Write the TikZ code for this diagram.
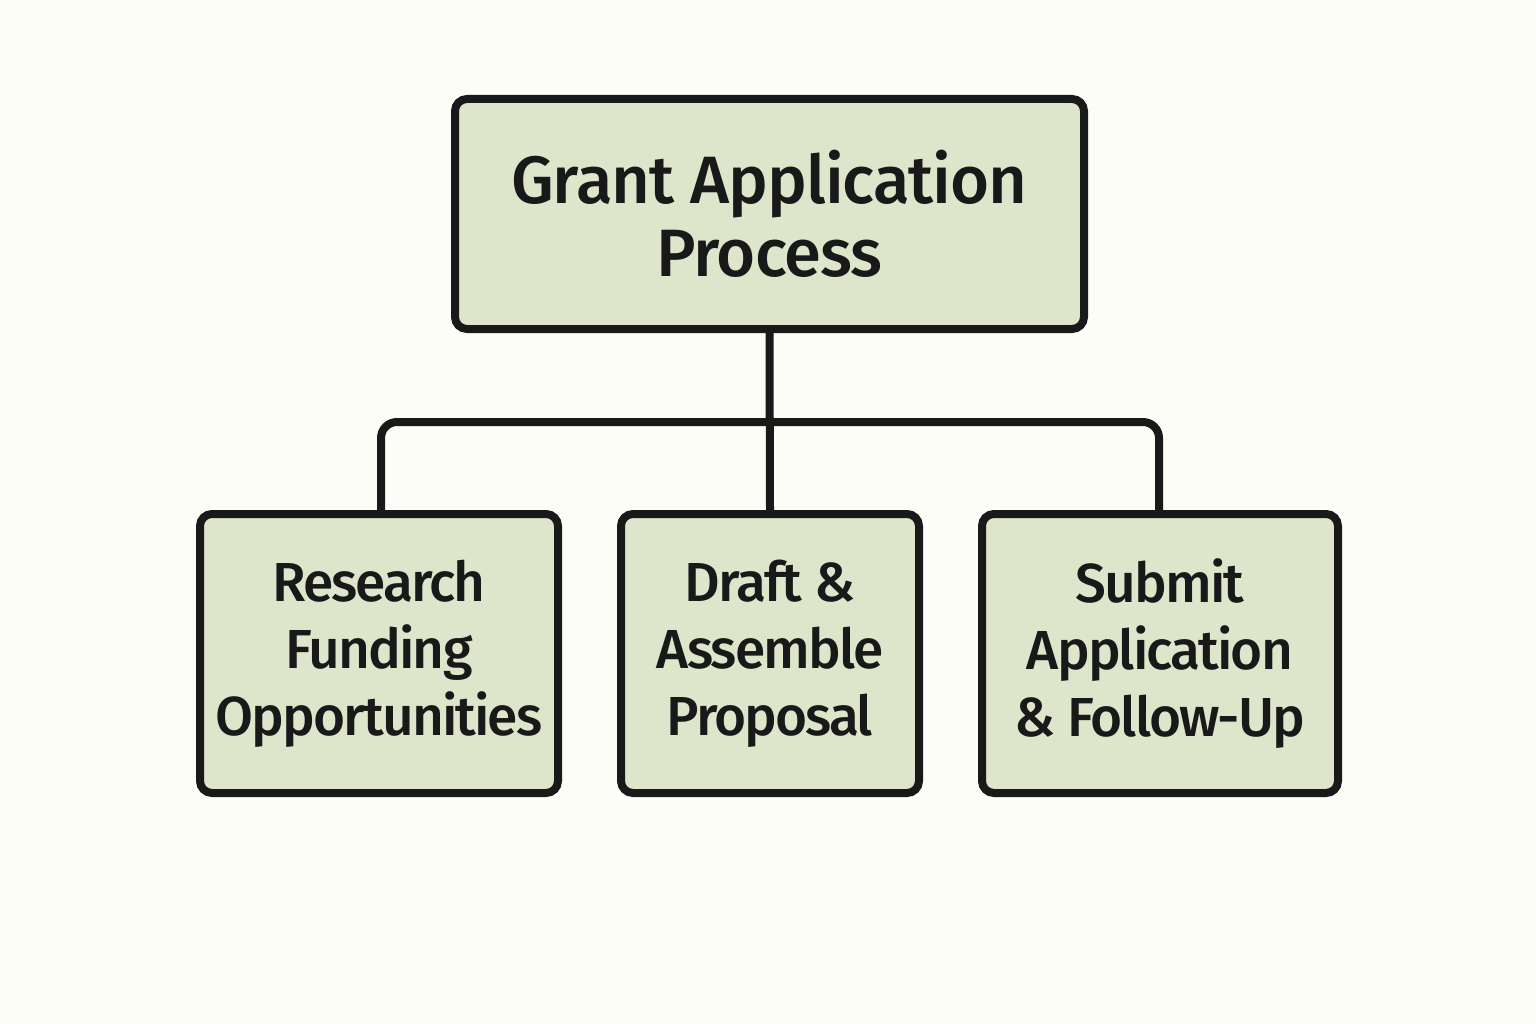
\documentclass[tikz,border=0pt]{standalone}
\usepackage{fontspec}
\setmainfont{Fira Sans}[UprightFont=* Medium]
\begin{document}
\begin{tikzpicture}[x=1pt,y=-1pt,
  box/.style={draw=black!90,line width=8pt,fill=boxfill,rounded corners=12pt,inner sep=0pt,align=center,text=black!90},
  conn/.style={draw=black!90,line width=8pt,rounded corners=16pt},
  bigtxt/.style={font=\fontsize{67}{73}\selectfont\addfontfeature{LetterSpace=-1.5}},
  smalltxt/.style={font=\fontsize{55}{67}\selectfont\addfontfeature{LetterSpace=-3.5}}]
\definecolor{boxfill}{HTML}{DDE5CB}
\definecolor{bg}{HTML}{FDFDF7}
\fill[bg] (0,0) rectangle (1536,1024);
\useasboundingbox (0,0) rectangle (1536,1024);
\node[box,bigtxt,minimum width=629pt,minimum height=230pt] (top) at (769.5,214) {Grant Application\\Process};
\node[box,smalltxt,minimum width=358pt,minimum height=279pt] (r) at (379,653.5) {Research\\Funding\\Opportunities};
\node[box,smalltxt,minimum width=298pt,minimum height=279pt] (d) at (770,653.5) {Draft \&\\Assemble\\Proposal};
\node[box,smalltxt,minimum width=356pt,minimum height=279pt] (s) at (1160,653.5) {Submit\\Application\\\& Follow-Up};
\draw[conn] (top.south) -- (d.north);
\draw[conn] (r.north -| 381,0) -- (381,422) -- (1159,422) -- (s.north -| 1159,0);
\end{tikzpicture}
\end{document}
